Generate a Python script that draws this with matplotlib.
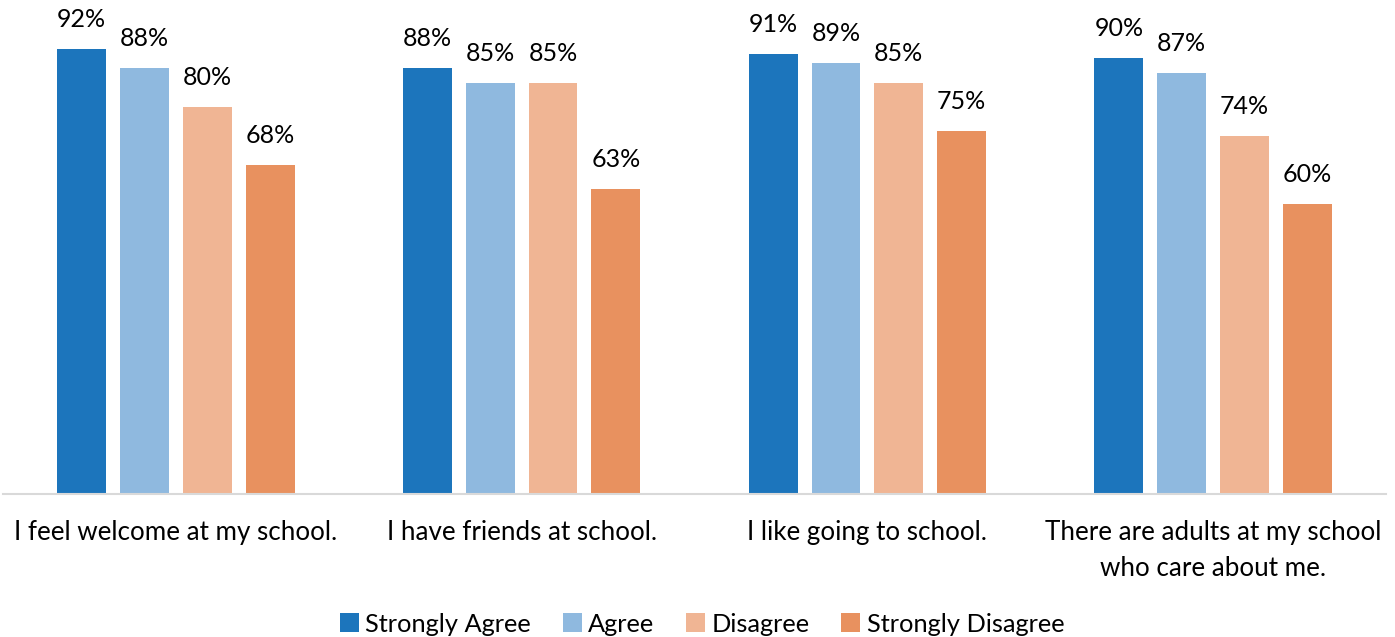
import matplotlib
matplotlib.use("Agg")
import matplotlib.pyplot as plt
import numpy as np

categories = ["I feel welcome at my school.", "I have friends at school.",
              "I like going to school.", "There are adults at my school\nwho care about me."]
series_names = ["Strongly Agree", "Agree", "Disagree", "Strongly Disagree"]
strongly_agree = [0.92, 0.88, 0.91, 0.90]
agree = [0.88, 0.85, 0.89, 0.87]
disagree = [0.80, 0.85, 0.85, 0.74]
strongly_disagree = [0.68, 0.63, 0.75, 0.60]
colors = ["#1C75BC", "#8FB9DF", "#F0B594", "#E8915F"]

plt.rcParams['font.family'] = ['Lato', 'DejaVu Sans']

fig = plt.figure(figsize=(13.95, 6.37), dpi=100)
ax = fig.add_axes([3/1395, 1-494/637, 1383/1395, 484/637])

x = np.arange(len(categories))
pitch = 0.1818
width = 0.1414
all_series = [strongly_agree, agree, disagree, strongly_disagree]
for i, (vals, name, c) in enumerate(zip(all_series, series_names, colors)):
    bars = ax.bar(x + (i - 1.5) * pitch, vals, width, color=c, label=name)
    for b, v in zip(bars, vals):
        ax.annotate(f"{round(v*100)}%", (b.get_x() + b.get_width()/2, v),
                    xytext=(0, 13), textcoords="offset points",
                    ha="center", va="bottom", fontsize=18, color="#000000")

ax.set_xlim(-0.5, 3.5)
ax.set_ylim(0, 1.0)
ax.set_yticks([])
ax.set_xticks(x)
ax.set_xticklabels(categories, fontsize=18.7, linespacing=1.55)
ax.tick_params(axis='x', length=0, pad=19)
for s in ["top", "right", "left"]:
    ax.spines[s].set_visible(False)
ax.spines["bottom"].set_color("#D9D9D9")
ax.spines["bottom"].set_linewidth(1.5)

fig.legend(loc="center", bbox_to_anchor=(702/1395, 1-624/637), ncol=4, frameon=False,
           fontsize=18.3, handlelength=0.75, handleheight=0.75, handletextpad=0.25,
           columnspacing=1.25)

fig.savefig("out.png", dpi=100)
